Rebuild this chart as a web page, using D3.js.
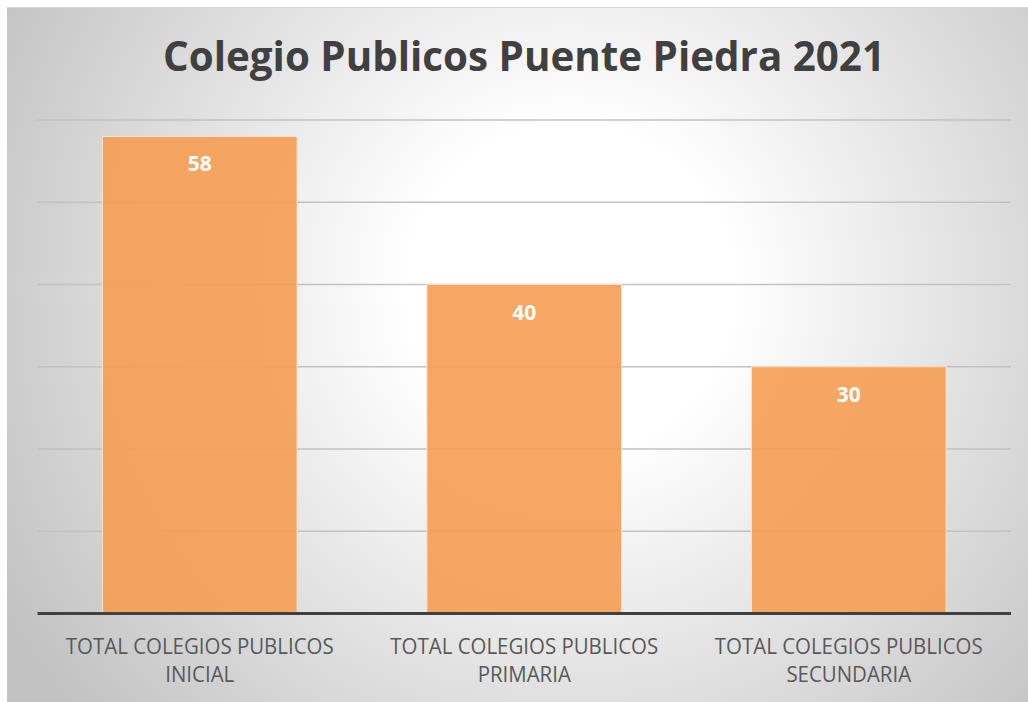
<!DOCTYPE html>
<html>
<head>
<meta charset="utf-8">
<script src="https://cdn.jsdelivr.net/npm/d3@7"></script>
<style>
  html, body { margin: 0; padding: 0; background: #ffffff; }
  svg { display: block; }
</style>
</head>
<body>
<script>
const title = "Colegio Publicos Puente Piedra 2021";
const categories = [
  ["TOTAL COLEGIOS PUBLICOS", "INICIAL"],
  ["TOTAL COLEGIOS PUBLICOS", "PRIMARIA"],
  ["TOTAL COLEGIOS PUBLICOS", "SECUNDARIA"]
];
const values = [58, 40, 30];
const yTicks = [0, 10, 20, 30, 40, 50, 60];

const W = 1028, H = 702;
const svg = d3.select("body").append("svg").attr("width", W).attr("height", H);

const defs = svg.append("defs");
const grad = defs.append("radialGradient")
  .attr("id", "bg").attr("gradientUnits", "userSpaceOnUse")
  .attr("cx", 570).attr("cy", 290).attr("r", 650);
grad.append("stop").attr("offset", 0).attr("stop-color", "#ffffff");
grad.append("stop").attr("offset", 0.25).attr("stop-color", "#ffffff");
grad.append("stop").attr("offset", 1).attr("stop-color", "#c2c2c2");

svg.append("rect").attr("x", 7).attr("y", 7).attr("width", W - 7).attr("height", H - 7)
  .attr("fill", "url(#bg)");
svg.append("line").attr("x1", 7).attr("x2", W).attr("y1", 7.5).attr("y2", 7.5)
  .attr("stroke", "#d8d8d8").attr("stroke-width", 1);

const x = d3.scaleBand().domain(d3.range(categories.length))
  .range([37.5, 1011]).paddingInner(0.4).paddingOuter(0.2);
const y = d3.scaleLinear().domain([0, 60]).range([613.5, 120]);

// gridlines
svg.append("g").selectAll("line").data(yTicks.filter(d => d > 0)).join("line")
  .attr("x1", 37.5).attr("x2", 1011)
  .attr("y1", d => y(d)).attr("y2", d => y(d))
  .attr("stroke", "#c2c2c2").attr("stroke-width", 1.5);

// bars
svg.append("g").selectAll("rect").data(values).join("rect")
  .attr("x", (d, i) => x(i)).attr("width", x.bandwidth())
  .attr("y", d => y(d)).attr("height", d => y(0) - y(d))
  .attr("fill", "#f59d52").attr("fill-opacity", 0.9)
  .attr("stroke", "#fbe3cf").attr("stroke-width", 1);

// baseline
svg.append("line").attr("x1", 37.5).attr("x2", 1011)
  .attr("y1", y(0)).attr("y2", y(0))
  .attr("stroke", "#404040").attr("stroke-width", 3);

// data labels
svg.append("g").selectAll("text").data(values).join("text")
  .attr("x", (d, i) => x(i) + x.bandwidth() / 2)
  .attr("y", d => y(d) + 35)
  .attr("text-anchor", "middle")
  .attr("font-family", "'Open Sans', sans-serif")
  .attr("font-weight", "bold").attr("font-size", 21)
  .attr("fill", "#ffffff")
  .text(d => d);

// title
const t = svg.append("text")
  .attr("x", 524).attr("y", 71)
  .attr("text-anchor", "middle")
  .attr("font-family", "'Open Sans', sans-serif")
  .attr("font-weight", "bold").attr("font-size", 41)
  .attr("fill", "#404040")
  .text(title);
t.attr("textLength", 722).attr("lengthAdjust", "spacingAndGlyphs");

// category labels
const labG = svg.append("g");
categories.forEach((lines, i) => {
  const cx = x(i) + x.bandwidth() / 2;
  const g = labG.append("g");
  lines.forEach((ln, j) => {
    g.append("text")
      .attr("x", cx).attr("y", 654.5 + j * 27.7)
      .attr("text-anchor", "middle")
      .attr("font-family", "'Open Sans', sans-serif")
      .attr("font-size", 21.5)
      .attr("fill", "#595959")
      .text(ln);
  });
  const first = g.select("text").node();
  const w = first.getComputedTextLength();
  const s = 268 / w;
  g.attr("transform", `translate(${cx},0) scale(${s},1) translate(${-cx},0)`);
});
</script>
</body>
</html>
